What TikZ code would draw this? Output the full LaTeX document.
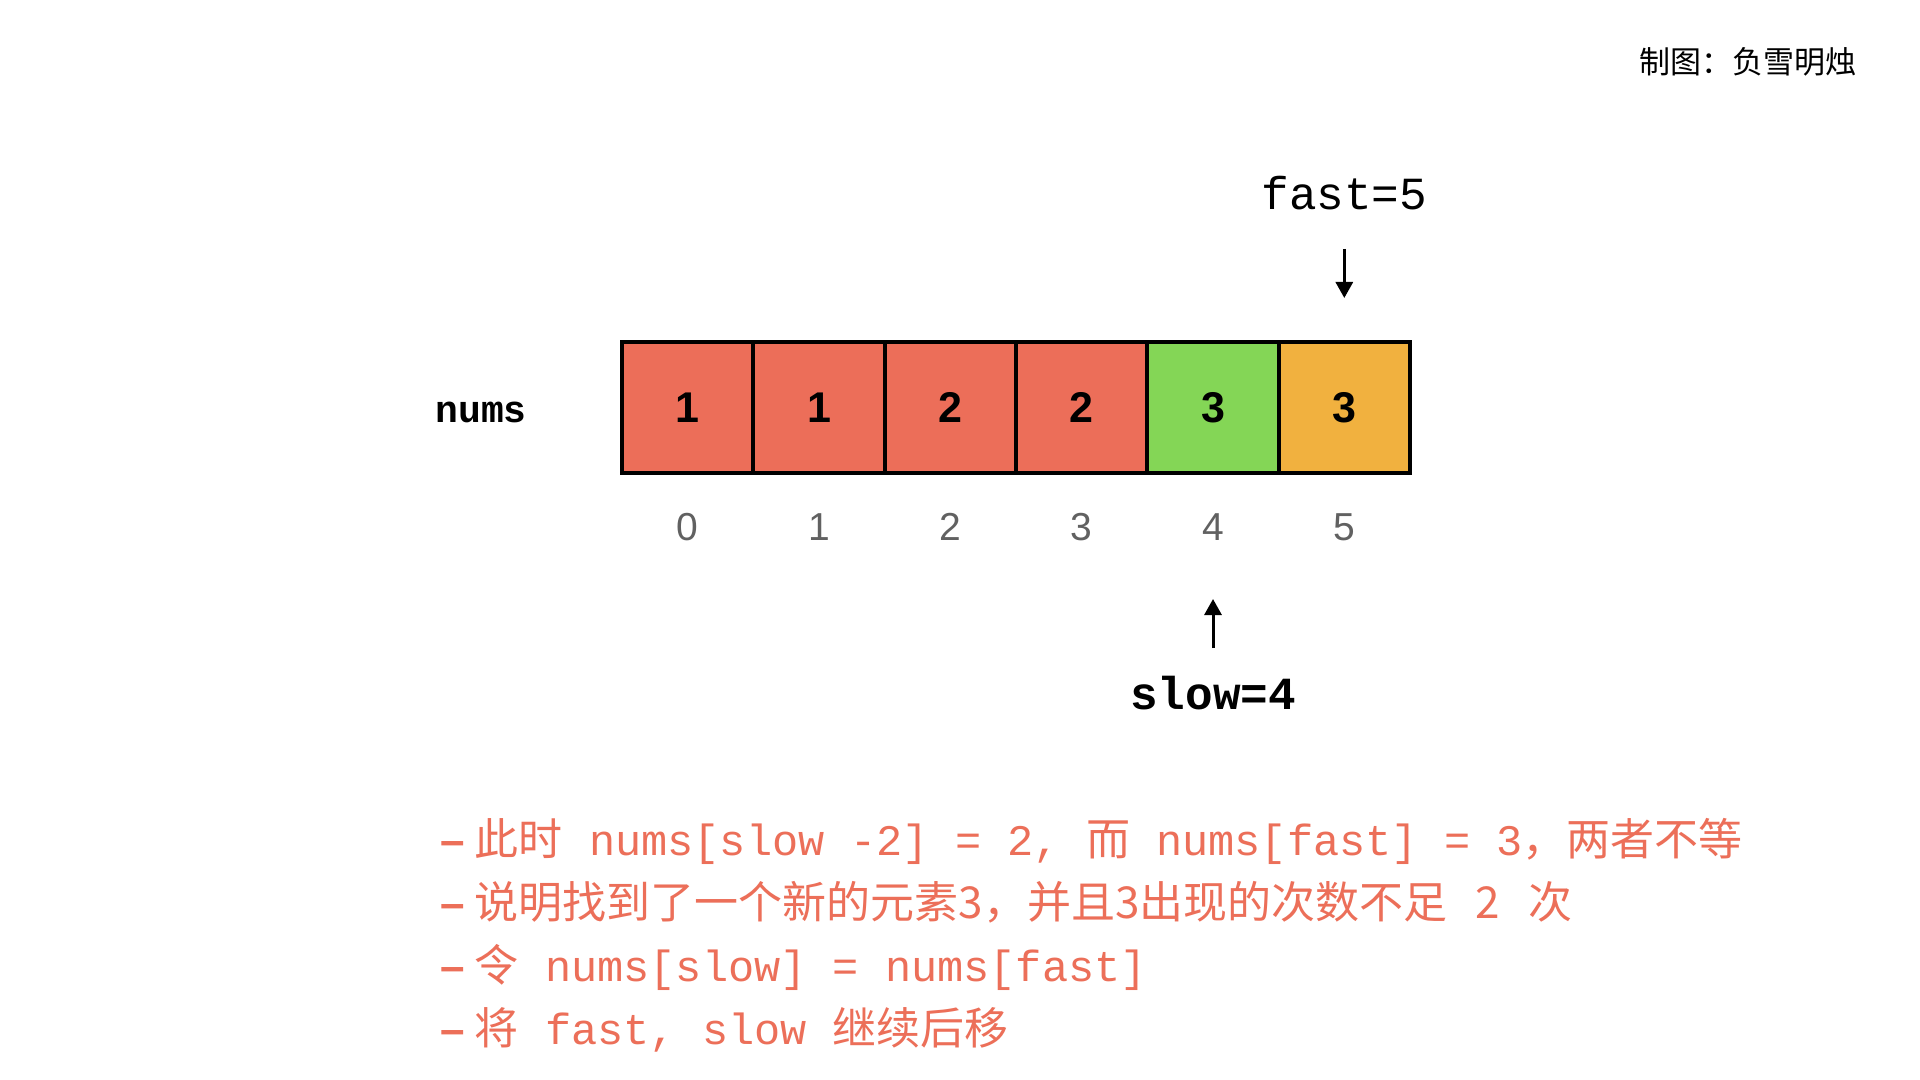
\documentclass[tikz,border=0pt]{standalone}
\usepackage{fontspec}
\setmainfont{Liberation Sans}
\newfontfamily\cjk{Noto Sans CJK SC}
\newfontfamily\mono{Liberation Mono}
\usetikzlibrary{arrows.meta}
\definecolor{cred}{HTML}{EC6E59}
\definecolor{cgreen}{HTML}{84D656}
\definecolor{corange}{HTML}{F1B13F}
\definecolor{ctext}{HTML}{EC6F59}
\definecolor{cidx}{HTML}{616161}
\tikzset{
  cell/.style={draw=black, line width=2pt, minimum width=65.7pt, minimum height=65.5pt, inner sep=0pt,
    font=\fontsize{21.5pt}{24pt}\selectfont\bfseries},
  idx/.style={text=cidx, inner sep=0pt, font=\fontsize{19.5pt}{22pt}\selectfont},
  ptrlbl/.style={inner sep=0pt, font=\mono\fontsize{23pt}{26pt}\selectfont},
  ptrarrow/.style={line width=1.5pt, -{Triangle[width=8.5pt,length=8pt]}},
  note/.style={text=ctext, inner sep=0pt, anchor=base west, font=\cjk\fontsize{22pt}{26pt}\selectfont},
}
\newcommand{\mn}[1]{{\mono\fontsize{21.8pt}{26pt}\selectfont #1}}
\newcommand{\bullt}{{\rmfamily\bfseries\fontsize{22pt}{26pt}\selectfont –}\hspace{5pt}}
\begin{document}
\begin{tikzpicture}[x=0.5pt,y=-0.5pt]
\useasboundingbox[fill=white] (0,0) rectangle (1920,1080);
% watermark
\node[anchor=west, inner sep=0pt, font=\cjk\fontsize{15.5pt}{18pt}\selectfont] (wm) at (1639,62) {制图：负雪明烛};
% array label
\node[inner sep=0pt, font=\mono\bfseries\fontsize{19pt}{22pt}\selectfont] (numslbl) at (481,412) {nums};
% cells
\node[cell, fill=cred]    (c0) at (687.7,407.5) {1};
\node[cell, fill=cred]    (c1) at (819.0,407.5) {1};
\node[cell, fill=cred]    (c2) at (950.3,407.5) {2};
\node[cell, fill=cred]    (c3) at (1081.7,407.5) {2};
\node[cell, fill=cgreen]  (c4) at (1213.0,407.5) {3};
\node[cell, fill=corange] (c5) at (1344.3,407.5) {3};
% indices
\node[idx] (i0) at (687.7,527) {0};
\node[idx] (i1) at (819.0,527) {1};
\node[idx] (i2) at (950.3,527) {2};
\node[idx] (i3) at (1081.7,527) {3};
\node[idx] (i4) at (1213.0,527) {4};
\node[idx] (i5) at (1344.3,527) {5};
% fast pointer
\node[ptrlbl] (fastlbl) at (1344.3,193) {fast=5};
\coordinate (fastA) at (1344.3,249);
\coordinate (fastB) at (1344.3,298);
\draw[ptrarrow] (fastA) -- (fastB);
% slow pointer
\node[ptrlbl, font=\mono\bfseries\fontsize{23pt}{26pt}\selectfont] (slowlbl) at (1213,693) {slow=4};
\coordinate (slowA) at (1213,648);
\coordinate (slowB) at (1213,599);
\draw[ptrarrow] (slowA) -- (slowB);
% notes
\node[note] (n1) at (440,855) {\bullt 此时\mn{ nums[slow -2] = 2, }而\mn{ nums[fast] = 3}，两者不等};
\node[note] (n2) at (440,918) {\bullt 说明找到了一个新的元素3，并且3出现的次数不足\hspace{14pt}2\hspace{14pt}次};
\node[note] (n3) at (440,981) {\bullt 令\mn{ nums[slow] = nums[fast]}};
\node[note] (n4) at (440,1044) {\bullt 将\mn{ fast, slow }继续后移};
\end{tikzpicture}
\end{document}
